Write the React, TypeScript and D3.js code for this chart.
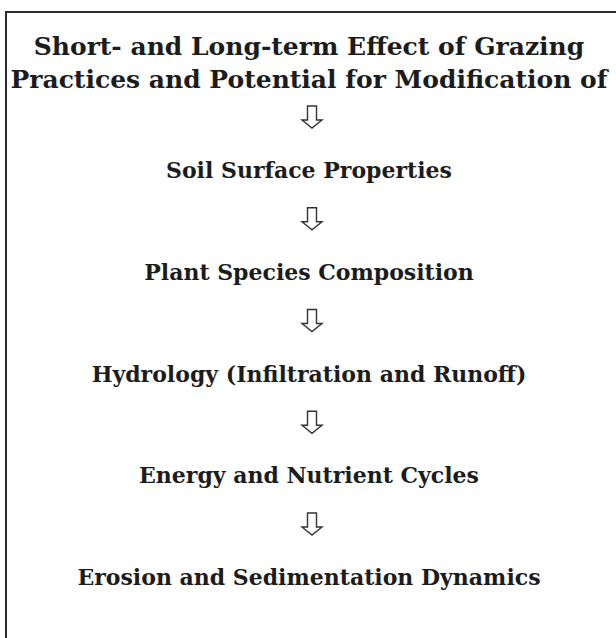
import * as d3 from "d3";
import React, { useEffect, useRef } from "react";

// header text, two lines
const titleLines: string[] = [
	"Short- and Long-term Effect of Grazing",
	"Practices and Potential for Modification of",
];

// the chain of effects, top to bottom
const steps: string[] = [
	"Soil Surface Properties",
	"Plant Species Composition",
	"Hydrology (Infiltration and Runoff)",
	"Energy and Nutrient Cycles",
	"Erosion and Sedimentation Dynamics",
];

const W = 616;
const H = 638;

const App = (): JSX.Element => {
	const svgRef = useRef<SVGSVGElement>(null);

	useEffect(() => {
		const svg = d3.select(svgRef.current);
		svg.selectAll("*").remove();

		const cx = 309;
		const font = "'DejaVu Serif', 'Liberation Serif', serif";
		const ink = "#1c1c1c";

		// frame: only top and left edges fall inside the page
		svg.append("rect")
			.attr("x", 6)
			.attr("y", 12)
			.attr("width", W + 50)
			.attr("height", H + 50)
			.attr("fill", "none")
			.attr("stroke", "#2b2b2b")
			.attr("stroke-width", 2);

		// title lines
		const yTitle = d3.scaleLinear().domain([0, 1]).range([55, 88]);
		svg.selectAll("text.title")
			.data(titleLines)
			.join("text")
			.attr("class", "title")
			.attr("x", cx)
			.attr("y", (_, i) => yTitle(i))
			.attr("text-anchor", "middle")
			.attr("font-family", font)
			.attr("font-weight", "bold")
			.attr("font-size", 25)
			.attr("fill", ink)
			.text((d) => d);

		// vertical rhythm for steps (baselines)
		const y = d3
			.scaleLinear()
			.domain([0, steps.length - 1])
			.range([178, 585]);

		svg.selectAll("text.step")
			.data(steps)
			.join("text")
			.attr("class", "step")
			.attr("x", cx)
			.attr("y", (_, i) => y(i))
			.attr("text-anchor", "middle")
			.attr("font-family", font)
			.attr("font-weight", "bold")
			.attr("font-size", 22)
			.attr("fill", ink)
			.text((d) => d);

		// hollow down arrows, one above each step
		const arrow = (x: number, yc: number) => {
			const p = d3.path();
			const sw = 4.5, hw = 10, top = yc - 11, neck = yc + 3, tip = yc + 11;
			p.moveTo(x - sw, top);
			p.lineTo(x + sw, top);
			p.lineTo(x + sw, neck);
			p.lineTo(x + hw, neck);
			p.lineTo(x, tip);
			p.lineTo(x - hw, neck);
			p.lineTo(x - sw, neck);
			p.closePath();
			return p.toString();
		};
		svg.selectAll("path.arrow")
			.data(steps)
			.join("path")
			.attr("class", "arrow")
			.attr("d", (_, i) => arrow(cx + 3, y(i) - 61))
			.attr("fill", "none")
			.attr("stroke", "#333")
			.attr("stroke-width", 1.4)
			.attr("stroke-linejoin", "miter");
	}, []);

	return (
		<svg
			ref={svgRef}
			width={W}
			height={H}
			style={{ position: "absolute", left: 0, top: 0, background: "#fff" }}
		/>
	);
};

export default App;
